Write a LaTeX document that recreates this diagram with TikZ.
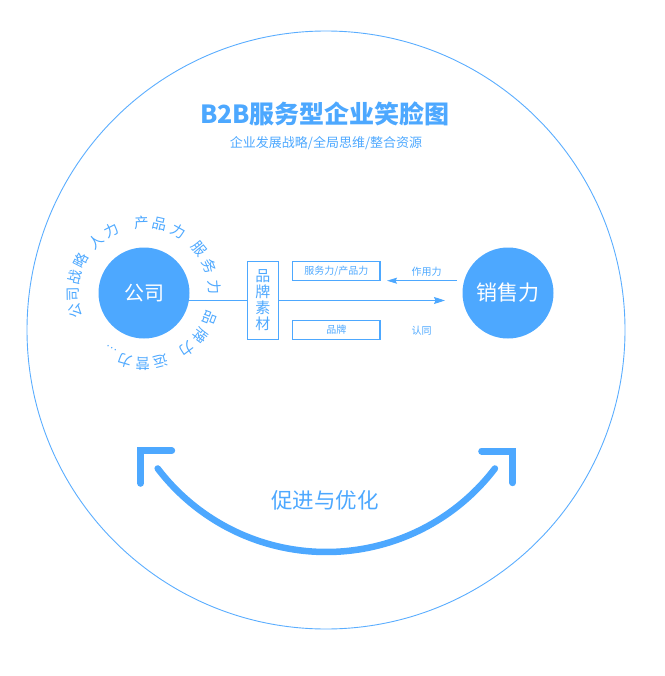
\documentclass[tikz,border=0pt]{standalone}
\usepackage{fontspec}
\setmainfont{Noto Sans CJK SC}
\usetikzlibrary{calc,arrows.meta}

\definecolor{smileblue}{HTML}{4DA8FF}
\definecolor{lineblue}{HTML}{5AADFF}

\begin{document}
\begin{tikzpicture}[x=1pt, y=-1pt,
  ringtext/.style={text=smileblue, font=\fontsize{14.5}{14.5}\selectfont, inner sep=0pt, text height=.88em, text depth=.12em},
  bigdot/.style={circle, fill=smileblue, text=white, minimum size=91pt, inner sep=0pt},
  infobox/.style={draw=smileblue, line width=1.2pt, text=smileblue, inner sep=0pt, font=\fontsize{10}{10}\selectfont},
  smallnote/.style={text=smileblue, font=\fontsize{10}{10}\selectfont}]

\useasboundingbox (0,0) rectangle (664,676);

\draw[lineblue, line width=0.9pt] (326,330) circle[radius=299];

\node (title) [text=smileblue, font=\bfseries\fontsize{25}{26}\selectfont] at (325,114) {B2B服务型企业笑脸图};
\node (subtitle) [text=smileblue, font=\fontsize{13}{14}\selectfont] at (326,143.5) {企业发展战略/全局思维/整合资源};

\node (gongsi) [bigdot, font=\fontsize{20}{20}\selectfont] at (144,293) {公司};
\node (xiaoshou) [bigdot, font=\fontsize{21}{21}\selectfont] at (508,293) {销售力};

% text round the company
\foreach \ch/\a in {公/195, 司/181, 战/167, 略/153, 人/133, 力/117, 产/92, 品/77, 力/61,
                    服/39, 务/22, 力/5, 品/-21, 牌/-37, 力/-53, 运/-76, 营/-91, 力/-106}
  \node[ringtext, rotate=\a-90] at ($(gongsi)+({69*cos(\a)},{-69*sin(\a)})$) {\ch};
\node (ringend) [text=smileblue, font=\fontsize{11}{11}\selectfont, inner sep=0pt, rotate=-209]
  at ($(gongsi)+({64*cos(-120)},{-64*sin(-120)})$) {…};

\node (sucai) [infobox, minimum width=31pt, minimum height=77.6pt, font=\fontsize{15}{16}\selectfont, align=center] at (262.8,300.5) {品\\牌\\素\\材};
\node (fuwu) [infobox, minimum width=87.3pt, minimum height=19pt] at (336.3,271.2) {服务力/产品力};
\node (pinpai) [infobox, minimum width=87.3pt, minimum height=19pt] at (336.3,329.7) {品牌};

\node (zuoyong) [smallnote] at (426.7,271.5) {作用力};
\node (rentong) [smallnote] at (421.7,330.5) {认同};

\coordinate (pushend) at (445,300.5);
\coordinate (pullstart) at (457,280.7);
\coordinate (pullend) at (387,280.7);

\draw[smileblue, line width=1pt] (gongsi.-9) -- (gongsi.-9 -| sucai.west);
\draw[smileblue, line width=1pt, -{Stealth[length=11pt, width=7pt, inset=1.5pt]}] (sucai.east) -- (pushend);
\draw[smileblue, line width=1pt, -{Stealth[length=10pt, width=6pt, inset=1.5pt]}] (pullstart) -- (pullend);

% the smile
\coordinate (smilec) at (326.3,340);
\draw[smileblue, line width=6.5pt, line cap=round] (smilec) ++(142.7:212) arc[start angle=142.7, end angle=37.3, radius=212];
\draw[smileblue, line width=7pt, line cap=round] (140.7,483.3) -- (140.7,450.7) -- (171.7,450.7);
\draw[smileblue, line width=7pt, line cap=round] (481.7,451) -- (512.7,451) -- (512.7,482.7);

\node (cujin) [text=smileblue, font=\fontsize{21.5}{22}\selectfont] at (325,500) {促进与优化};

\end{tikzpicture}
\end{document}
